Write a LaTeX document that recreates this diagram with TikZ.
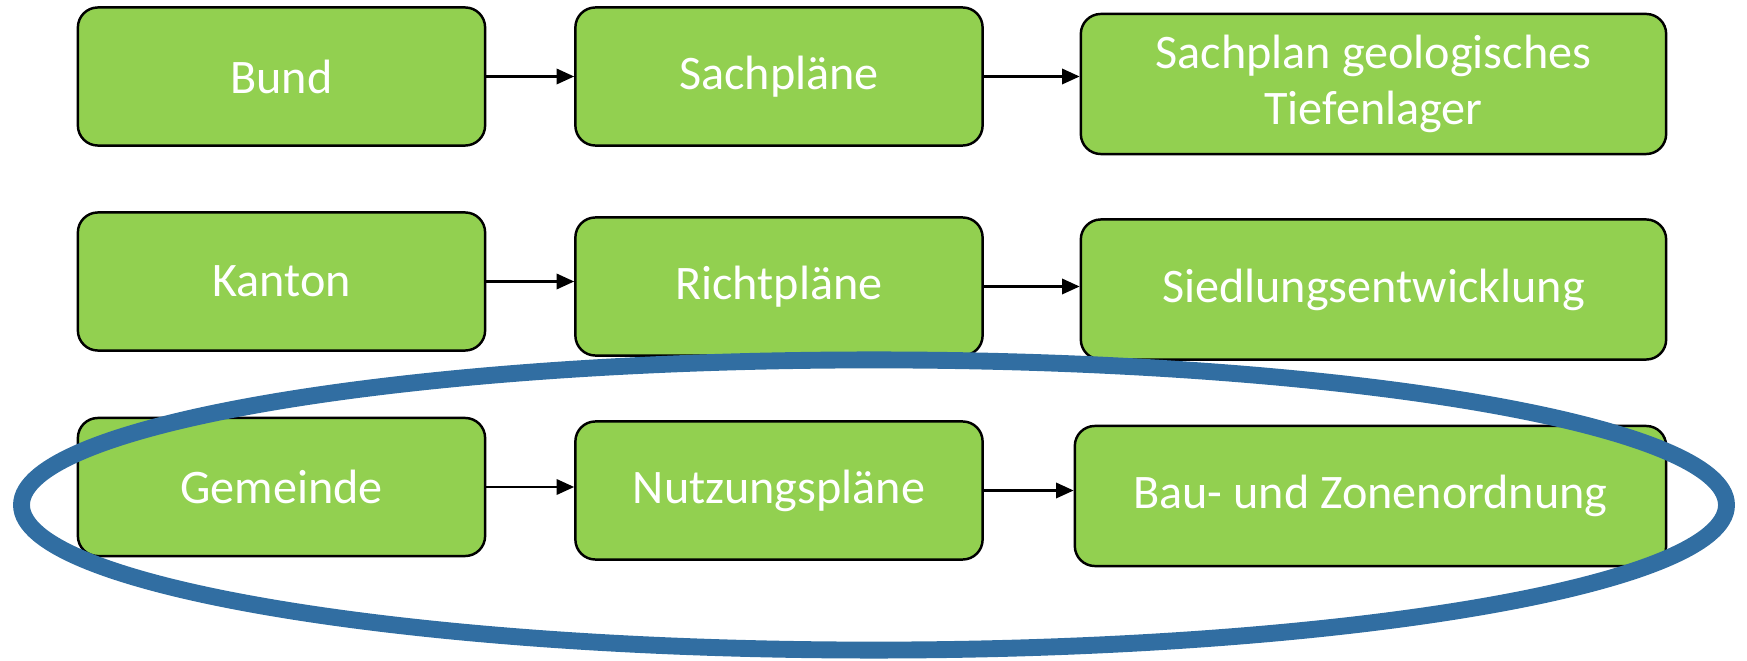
\documentclass[tikz,border=0pt]{standalone}
\usepackage{fontspec}
\setmainfont{Carlito}
\usetikzlibrary{positioning,arrows.meta}
\definecolor{plangreen}{RGB}{146,208,80}
\definecolor{ringblue}{RGB}{49,110,162}

\begin{document}
\begin{tikzpicture}[x=0.01cm, y=-0.01cm, >={Triangle[length=5pt, width=4.4pt]},
    ebene/.style={draw=black, line width=0.7pt, fill=plangreen, rounded corners=0.2cm,
      minimum width=4.07cm, minimum height=1.38cm, align=center, text=white,
      font=\fontsize{13.7}{16}\selectfont, inner sep=0pt},
    wide/.style={ebene, minimum width=5.85cm, minimum height=1.4cm},
    pfeil/.style={->, line width=0.6pt}]
  \useasboundingbox (0,0) rectangle (1747,661);
  % Bund
  \node[ebene] (bund)   at (281.5,76.5)  {Bund};
  \node[ebene] (sach)   at (779,76.5)    {Sachpläne};
  \node[wide]  (sgt)    at (1373.5,84)   {Sachplan geologisches\\Tiefenlager};
  % Kanton
  \node[ebene] (kanton) at (281.5,281.5) {Kanton};
  \node[ebene] (richt)  at (779,286.5)   {Richtpläne};
  \node[wide]  (sied)   at (1373.5,289.5){Siedlungsentwicklung};
  % Gemeinde
  \node[ebene] (gem)    at (281.5,487)   {Gemeinde};
  \node[ebene] (nutz)   at (779,490.5)   {Nutzungspläne};
  \node[wide, minimum width=5.91cm] (bzo) at (1370.5,496) {Bau- und Zonenordnung};
  \foreach \a/\b in {bund/sach, sach/sgt, kanton/richt, richt/sied, gem/nutz, nutz/bzo}
    \draw[pfeil] (\a.east) -- (\a.east -| \b.west);
  \draw[ringblue, line width=4.8pt] (874,505) ellipse [x radius=8.52cm, y radius=1.45cm];
\end{tikzpicture}
\end{document}
